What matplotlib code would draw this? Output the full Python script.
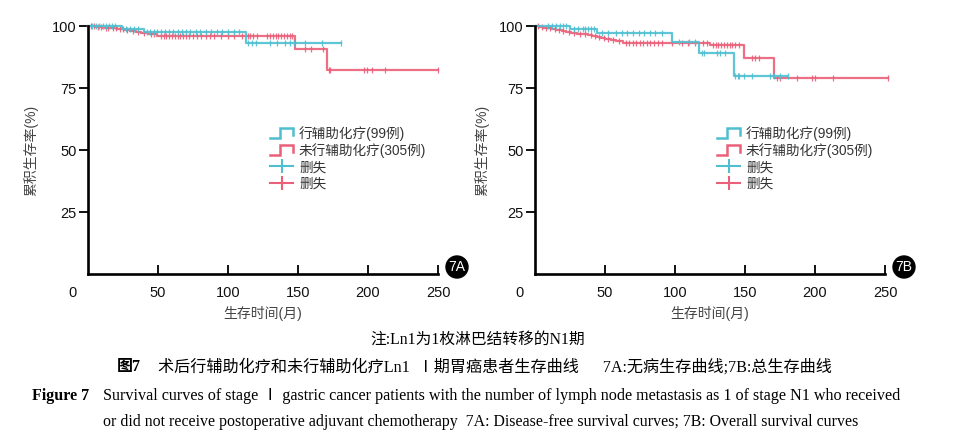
import numpy as np
import matplotlib
matplotlib.use("Agg")
import matplotlib.pyplot as plt
from matplotlib.lines import Line2D
from matplotlib.patches import Ellipse
from matplotlib.legend_handler import HandlerBase

SANS = ['Liberation Sans', 'Noto Sans CJK SC', 'DejaVu Sans']
SERIF = ['Liberation Serif', 'Noto Sans CJK SC', 'DejaVu Sans']
plt.rcParams['font.family'] = SANS

CYAN = '#4fbfd0'
RED = '#ea5f79'

# 7A: disease-free survival (step times in months, survival in %)
dfs_adj_t = [0, 24, 40, 113, 181]
dfs_adj_s = [100, 98.9, 97.7, 93.0, 93.0]
dfs_adj_cens = [3, 6, 8, 11, 13, 15, 17, 19, 27, 30, 33, 36, 42, 44, 47, 49, 52, 55, 58,
                61, 64, 67, 70, 73, 77, 80, 84, 88, 92, 96, 100, 104, 108, 114, 117, 120,
                130, 135, 141, 144, 147, 155, 167, 181]

dfs_non_t = [0, 5, 11, 16, 21, 26, 30, 34, 38, 43, 49, 148, 171, 250]
dfs_non_s = [100, 99.7, 99.3, 99.0, 98.6, 98.3, 97.9, 97.5, 97.1, 96.6, 96.1, 90.7, 82.4, 82.4]
dfs_non_cens = [2, 4, 7, 9, 13, 14, 18, 20, 23, 25, 28, 32, 36, 40, 45, 47, 52, 54, 56, 58,
                60, 62, 64, 66, 68, 70, 72, 75, 78, 81, 84, 87, 90, 95, 100, 104, 110, 114,
                116, 118, 121, 128, 130, 132, 134, 136, 138, 140, 142, 144, 146, 155, 159,
                168, 172, 173, 197, 199, 203, 212, 250]

# 7B: overall survival
os_adj_t = [0, 25, 44, 98, 117, 142, 181]
os_adj_s = [100, 98.9, 97.3, 93.5, 89.0, 79.8, 79.8]
os_adj_cens = [9, 12, 15, 18, 20, 22, 28, 31, 34, 36, 38, 40, 42, 48, 52, 58, 62, 66, 70,
               74, 78, 82, 86, 91, 103, 110, 114, 119, 121, 130, 132, 136, 143, 145, 146,
               149, 155, 168, 171, 175, 181]

os_non_t = [0, 3, 6, 9, 12, 15, 19, 22, 26, 30, 34, 38, 41, 44, 47, 50, 54, 58, 63, 125,
            149, 171, 252]
os_non_s = [100, 99.7, 99.3, 99.0, 98.7, 98.3, 98.0, 97.6, 97.3, 96.9, 96.6, 96.2, 95.9,
            95.5, 95.1, 94.7, 94.3, 93.9, 93.3, 92.2, 87.0, 79.2, 79.2]
os_non_cens = [2, 5, 8, 11, 14, 17, 20, 24, 28, 32, 36, 40, 43, 46, 49, 52, 56, 60, 65, 67,
               70, 72, 75, 77, 80, 82, 85, 88, 91, 98, 105, 109, 114, 120, 123, 127, 129,
               131, 133, 135, 137, 139, 141, 143, 146, 155, 157, 160, 173, 175, 187, 198,
               200, 213, 252]

labels = ['行辅助化疗(99例)', '未行辅助化疗(305例)', '删失', '删失']
x_ticks = [50, 100, 150, 200, 250]
y_ticks = [25, 50, 75, 100]

W, H = 955, 446


class StepHandler(HandlerBase):
    def create_artists(self, legend, orig_handle, xdescent, ydescent, width, height,
                       fontsize, trans):
        xs = np.array([0, 0.45, 0.45, 1.0, 1.0]) * width - xdescent
        ys = np.array([0.05, 0.05, 1.0, 1.0, 0.35]) * height - ydescent
        ln = Line2D(xs, ys, color=orig_handle.get_color(),
                    lw=orig_handle.get_linewidth(), transform=trans,
                    solid_joinstyle='miter')
        return [ln]


def surv_at(t, times, surv):
    idx = np.searchsorted(times, t, side='right') - 1
    return np.asarray(surv)[idx]


def km_panel(ax, curves, tag, ylab_x):
    for times, surv, cens, col in curves:
        ax.step(times, surv, where='post', color=col, lw=1.6, alpha=0.9, clip_on=False)
        ax.plot(cens, surv_at(cens, times, surv), ls='none', marker='|', ms=5, mew=0.9,
                color=col, alpha=0.9, clip_on=False)

    ax.set_xlim(0, 250)
    ax.set_ylim(0, 100)
    for s in ['top', 'right']:
        ax.spines[s].set_visible(False)
    for s in ['left', 'bottom']:
        ax.spines[s].set_linewidth(1.9)
    ax.set_xticks(x_ticks)
    ax.set_yticks(y_ticks)
    ax.tick_params(axis='x', direction='in', length=6.5, width=1.4, pad=8.5,
                   labelsize=10.5, colors='#111111')
    ax.tick_params(axis='y', direction='out', length=6.5, width=1.4, pad=1.5,
                   labelsize=10.5, colors='#111111')
    ax.annotate('0', xy=(0, 0), xycoords=('data', 'axes fraction'), xytext=(-11.5, -13.5),
                textcoords='offset points', ha='center', va='center', fontsize=10.5,
                color='#111111')
    ax.set_xlabel('生存时间(月)', fontsize=10, color='#444444')
    ax.xaxis.set_label_coords(0.5, -0.13)
    ax.set_ylabel('累积生存率(%)', fontsize=10, color='#444444')
    ax.yaxis.set_label_coords(ylab_x, 0.5)

    handles = [Line2D([], [], color=CYAN, lw=1.8), Line2D([], [], color=RED, lw=1.8),
               Line2D([], [], color=CYAN, lw=1.5, marker='|', ms=10, mew=1.5),
               Line2D([], [], color=RED, lw=1.5, marker='|', ms=10, mew=1.5)]
    hm = {handles[0]: StepHandler(), handles[1]: StepHandler()}
    leg = ax.legend(handles, labels, handler_map=hm, loc='upper left',
                    bbox_to_anchor=(0.52, 0.597), frameon=False, fontsize=9.8,
                    handlelength=1.69, handleheight=0.85, handletextpad=0.44,
                    labelspacing=0.18, borderpad=0, borderaxespad=0)
    for txt in leg.get_texts():
        txt.set_color('#333333')

    # panel tag in a black disc to the right of the x axis end
    bb = ax.get_position()
    cx = bb.x1 + 19 / W
    cy = bb.y0 + 7 / H
    ax.figure.add_artist(Ellipse((cx, cy), 22 / W, 22 / H, transform=ax.figure.transFigure,
                                 color='black'))
    ax.figure.text(cx, cy, tag, ha='center', va='center', color='white', fontsize=10)


fig = plt.figure(figsize=(W / 100, H / 100), dpi=100)
axA = fig.add_axes([88 / W, (H - 274) / H, 350 / W, 248 / H])
axB = fig.add_axes([535 / W, (H - 274) / H, 350 / W, 248 / H])

km_panel(axA, [(dfs_non_t, dfs_non_s, dfs_non_cens, RED),
               (dfs_adj_t, dfs_adj_s, dfs_adj_cens, CYAN)], '7A', -0.141)
km_panel(axB, [(os_non_t, os_non_s, os_non_cens, RED),
               (os_adj_t, os_adj_s, os_adj_cens, CYAN)], '7B', -0.13)


def ftext(x, y, s, **kw):
    fig.text(x / W, 1 - y / H, s, va='center', **kw)


ftext(478, 340, '注:Ln1为1枚淋巴结转移的N1期', ha='center', fontsize=11.3, family=SERIF)
ftext(117, 367, '图7', ha='left', fontsize=11.5, family=SERIF, fontweight='bold')
ftext(158, 367, '术后行辅助化疗和未行辅助化疗Ln1  Ⅰ期胃癌患者生存曲线      7A:无病生存曲线;7B:总生存曲线',
      ha='left', fontsize=11.6, family=SERIF)
ftext(32, 396, 'Figure 7', ha='left', fontsize=11.5, family=SERIF, fontweight='bold')
ftext(103, 396, 'Survival curves of stage Ⅰ gastric cancer patients with the number of lymph '
      'node metastasis as 1 of stage N1 who received', ha='left', fontsize=11.6, family=SERIF)
ftext(103, 422, 'or did not receive postoperative adjuvant chemotherapy  7A: Disease-free '
      'survival curves; 7B: Overall survival curves', ha='left', fontsize=11.4, family=SERIF)

fig.savefig('out.png', dpi=100)
